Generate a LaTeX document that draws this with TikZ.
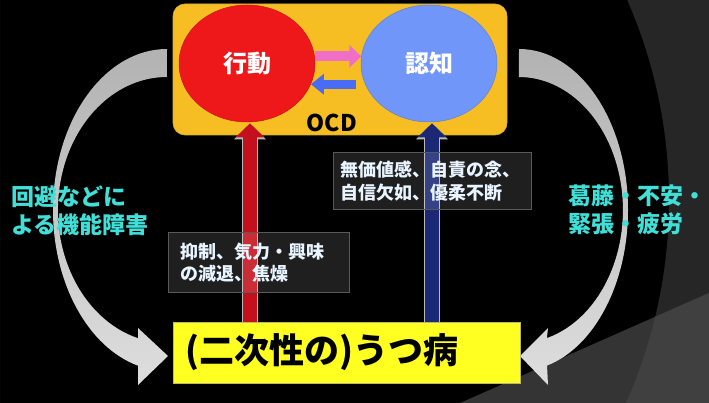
\documentclass[tikz,border=0pt]{standalone}
\usepackage{fontspec}
\setmainfont{Noto Sans CJK JP}
\usetikzlibrary{shapes.geometric,arrows.meta,calc}
\definecolor{ocdorange}{RGB}{247,190,36}
\definecolor{actred}{RGB}{238,24,26}
\definecolor{cogblue}{RGB}{112,150,250}
\definecolor{lpink}{RGB}{238,110,200}
\definecolor{lblue}{RGB}{72,108,245}
\definecolor{upred}{RGB}{196,16,28}
\definecolor{upblue}{RGB}{26,40,118}
\definecolor{depyellow}{RGB}{255,255,34}
\definecolor{cyantext}{RGB}{64,224,216}
\definecolor{notetext}{RGB}{232,244,255}
\definecolor{bgdark}{RGB}{38,38,38}
\definecolor{bgband}{RGB}{52,52,52}
\definecolor{bgbandr}{RGB}{64,64,64}
\definecolor{bendtop}{RGB}{178,178,178}
\definecolor{bendbot}{RGB}{222,222,222}

\begin{document}
\begin{tikzpicture}[x=1pt,y=-1pt,
  circnode/.style={ellipse,minimum width=136pt,minimum height=117pt,inner sep=0pt,
    text=white,font=\fontsize{24}{28}\selectfont\bfseries},
  notebox/.style={anchor=north west,fill=white,fill opacity=0.12,text opacity=1,
    draw=gray!70!black,line width=0.8pt,text=notetext,align=left,
    font=\fontsize{18}{22.5}\selectfont\bfseries},
  sidelabel/.style={anchor=west,text=cyantext,align=left,
    font=\fontsize{23}{28}\selectfont\bfseries},
  bandarrow/.style={top color=bendtop,bottom color=bendbot},
  upshaft/.style={line width=14pt,-{Triangle[width=28pt,length=14pt]}},
  uprim/.style={line width=16pt,-{Triangle[width=31pt,length=16pt]},gray!55}]
\useasboundingbox (0,0) rectangle (709,403);
\fill[black] (0,0) rectangle (709,403);
\fill[bgdark,even odd rule] (0,0) rectangle (709,403) (171,200) circle (498);
\begin{scope}
\clip (460,403) -- (709,293) -- (709,403) -- cycle;
\fill[bgband] (0,0) rectangle (709,403);
\fill[bgbandr,even odd rule] (0,0) rectangle (709,403) (171,200) circle (498);
\end{scope}

\shade[bandarrow] (167,49) arc[start angle=270,end angle=104.7,x radius=114,y radius=161]
  -- (138,385) -- (168,356) -- (138,328) -- (138,338.2)
  arc[start angle=105.4,end angle=270,x radius=109,y radius=133] -- cycle;
\shade[bandarrow] (519,49) arc[start angle=270,end angle=435.1,x radius=109,y radius=161]
  -- (548,385) -- (520,356) -- (548,328) -- (546.9,338.1)
  arc[start angle=74.4,end angle=-90,x radius=104,y radius=133] -- cycle;

\node[sidelabel] (avoid) at (8,211) {回避などに\\よる機能障害};
\node[sidelabel] (strain) at (565,210) {葛藤・不安・\\緊張・疲労};

\node[rectangle,rounded corners=12pt,minimum width=334pt,minimum height=131pt,
  fill=ocdorange,draw=ocdorange!70!gray,line width=0.6pt] (ocd) at (340,69.5) {};
\node[circnode,fill=actred,draw=actred!85!black,line width=0.5pt] (act) at (247,63.5) {行動};
\node[circnode,fill=cogblue,draw=cogblue!85!black,line width=0.5pt] (cog) at (429,63.5) {認知};
\node[font=\fontsize{23}{26}\selectfont\bfseries] (ocdlabel) at (332,123) {OCD};

\draw[-{Triangle[width=22pt,length=12pt]},line width=10pt,lpink] (act.6) -- (cog.174);
\draw[-{Triangle[width=20pt,length=13pt]},line width=9pt,lblue,shorten <=9pt] (cog.198) -- (act.-18);

\node[rectangle,fill=depyellow,draw=gray!60!yellow,line width=0.6pt,
  text width=323pt,inner xsep=12pt,minimum height=61pt,align=left,
  font=\fontsize{35}{40}\selectfont\bfseries] (dep) at (346.5,352.5) {(二次性の)うつ病};

\foreach \n/\c in {act/upred,cog/upblue}
{
\draw[uprim] ($(\n.south |- dep.north)+(3,0)$) -- ($(\n.south |- ocd.south)+(3,-12)$);
\draw[upshaft,\c] ($(\n.south |- dep.north)+(3,0)$) -- ($(\n.south |- ocd.south)+(3,-12)$);
}

\node[notebox,text width=157pt,inner xsep=12pt,minimum height=60pt] (sym1) at (168,232)
  {抑制、気力・興味\\の減退、焦燥};
\node[notebox,text width=184pt,inner xsep=7pt,minimum height=57pt] (sym2) at (333,152)
  {無価値感、自責の念、\\自信欠如、優柔不断};
\end{tikzpicture}
\end{document}
